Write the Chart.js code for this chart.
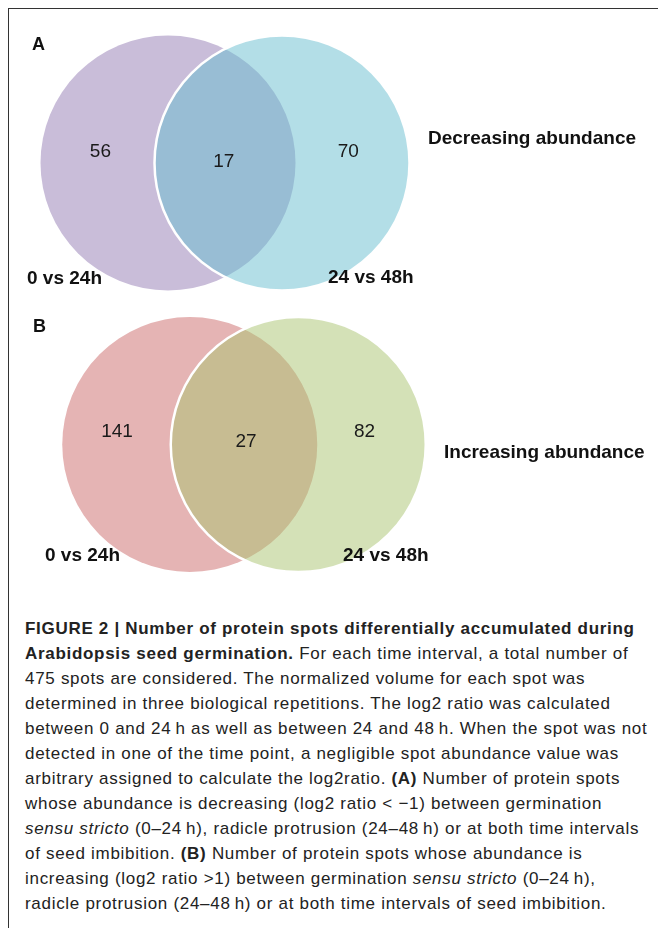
<!DOCTYPE html>
<html>
<head>
<meta charset="utf-8">
<script src="https://cdn.jsdelivr.net/npm/chart.js@4.4.1/dist/chart.umd.min.js"></script>
<style>
  html, body { margin: 0; padding: 0; background: #fff; }
  body { width: 658px; height: 928px; position: relative; overflow: hidden; font-family: "Liberation Sans", Arial, sans-serif; color: #1d1d1b; }
  #frame { position: absolute; left: 8px; top: 8px; width: 660px; height: 940px; border-top: 1px solid #333; border-left: 1px solid #333; }
  .cv { position: absolute; left: 8px; }
  .lbl { position: absolute; white-space: nowrap; font-weight: bold; color: #111; }
  #caption { position: absolute; left: 25px; top: 616px; font-size: 17px; letter-spacing: 0.7px; line-height: 25px; color: #222; }
  #caption div { white-space: nowrap; }
</style>
</head>
<body>
<div id="frame"></div>
<canvas id="cA" class="cv" width="650" height="292" style="top:8px"></canvas>
<canvas id="cB" class="cv" width="650" height="300" style="top:300px"></canvas>

<div class="lbl" id="tA" style="left:32px; top:34px; font-size:18px;"></div>
<div class="lbl" id="tB" style="left:33px; top:316px; font-size:18px;"></div>
<div class="lbl" id="sA1" style="left:27px; top:267px; font-size:19px;"></div>
<div class="lbl" id="sA2" style="left:328px; top:266px; font-size:19px;"></div>
<div class="lbl" id="pA" style="left:428px; top:127px; font-size:19px;"></div>
<div class="lbl" id="sB1" style="left:45px; top:544px; font-size:19px;"></div>
<div class="lbl" id="sB2" style="left:343px; top:544px; font-size:19px;"></div>
<div class="lbl" id="pB" style="left:444px; top:441px; font-size:19px;"></div>

<div id="caption">
<div><b>FIGURE 2 | Number of protein spots differentially accumulated during</b></div>
<div><b>Arabidopsis seed germination.</b> For each time interval, a total number of</div>
<div>475 spots are considered. The normalized volume for each spot was</div>
<div>determined in three biological repetitions. The log2 ratio was calculated</div>
<div>between 0 and 24&thinsp;h as well as between 24 and 48&thinsp;h. When the spot was not</div>
<div>detected in one of the time point, a negligible spot abundance value was</div>
<div>arbitrary assigned to calculate the log2ratio. <b>(A)</b> Number of protein spots</div>
<div>whose abundance is decreasing (log2 ratio &lt; &minus;1) between germination</div>
<div><i>sensu stricto</i> (0&ndash;24&thinsp;h), radicle protrusion (24&ndash;48&thinsp;h) or at both time intervals</div>
<div>of seed imbibition. <b>(B)</b> Number of protein spots whose abundance is</div>
<div>increasing (log2 ratio &gt;1) between germination <i>sensu stricto</i> (0&ndash;24&thinsp;h),</div>
<div>radicle protrusion (24&ndash;48&thinsp;h) or at both time intervals of seed imbibition.</div>
</div>

<script>
// ---- data ----
const panelTitles = ['A', 'B'];
const setNames = ['0 vs 24h', '24 vs 48h'];
const panelLabels = ['Decreasing abundance', 'Increasing abundance'];
// region counts: [only 0 vs 24h, both intervals, only 24 vs 48h]
const decreasingCounts = [56, 17, 70];
const increasingCounts = [141, 27, 82];

document.getElementById('tA').textContent = panelTitles[0];
document.getElementById('tB').textContent = panelTitles[1];
document.getElementById('sA1').textContent = setNames[0];
document.getElementById('sA2').textContent = setNames[1];
document.getElementById('sB1').textContent = setNames[0];
document.getElementById('sB2').textContent = setNames[1];
document.getElementById('pA').textContent = panelLabels[0];
document.getElementById('pB').textContent = panelLabels[1];

// ---- layout / style (pixels in canvas) ----
function makeVenn(canvasId, counts, L) {
  const cv = document.getElementById(canvasId);
  const W = cv.width, H = cv.height, u = L.rPx;
  const d = L.dPx / u; // centre distance in radius units
  const xmin = -L.midX / u, xmax = (W - L.midX) / u;
  const ymax = L.cy / u, ymin = -(H - L.cy) / u;

  const countLabels = {
    id: 'countLabels',
    afterDatasetsDraw(chart) {
      const c = chart.ctx, xs = chart.scales.x, ys = chart.scales.y;
      c.save();
      c.font = '19px "Liberation Sans", Arial, sans-serif';
      c.fillStyle = '#1a1a1a';
      c.textAlign = 'center';
      c.textBaseline = 'alphabetic';
      const pos = [
        [-d / 2 - L.offL, L.dySide],
        [L.dxMid, L.dyMid],
        [d / 2 + L.offR, L.dySide]
      ];
      counts.forEach((v, i) => {
        const px = xs.getPixelForValue(pos[i][0]);
        const py = ys.getPixelForValue(pos[i][1]);
        c.fillText(String(v), px, py + 0.358 * 19);
      });
      c.restore();
    }
  };

  const radius = ctx => {
    const s = ctx.chart.scales.x;
    return Math.abs(s.getPixelForValue(1) - s.getPixelForValue(0));
  };

  return new Chart(cv, {
    type: 'scatter',
    data: {
      datasets: [
        { label: setNames[1], data: [{ x: d / 2, y: 0 }], order: 0,
          backgroundColor: L.colR, borderColor: '#ffffff', borderWidth: L.bw,
          pointRadius: radius, pointHoverRadius: radius, clip: false },
        { label: setNames[0], data: [{ x: -d / 2, y: 0 }], order: 1,
          backgroundColor: L.colL, borderColor: L.colL, borderWidth: 0,
          pointRadius: radius, pointHoverRadius: radius, clip: false }
      ]
    },
    options: {
      responsive: false,
      animation: false,
      events: [],
      layout: { padding: 0 },
      plugins: { legend: { display: false }, tooltip: { enabled: false } },
      scales: {
        x: { type: 'linear', display: false, min: xmin, max: xmax },
        y: { type: 'linear', display: false, min: ymin, max: ymax }
      }
    },
    plugins: [countLabels]
  });
}

makeVenn('cA', decreasingCounts, {
  midX: 217, cy: 155, rPx: 127.5, dPx: 114,
  offL: 0.53, offR: 0.52, dySide: 0.10, dxMid: -0.01, dyMid: 0.023,
  colL: 'rgb(201,189,217)', colR: 'rgba(103,189,207,0.5)', bw: 2.5
});
makeVenn('cB', increasingCounts, {
  midX: 236, cy: 144.5, rPx: 127.5, dPx: 108.5,
  offL: 0.57, offR: 0.52, dySide: 0.114, dxMid: 0.016, dyMid: 0.035,
  colL: 'rgb(229,180,180)', colR: 'rgba(169,195,111,0.5)', bw: 2.5
});
</script>
</body>
</html>
